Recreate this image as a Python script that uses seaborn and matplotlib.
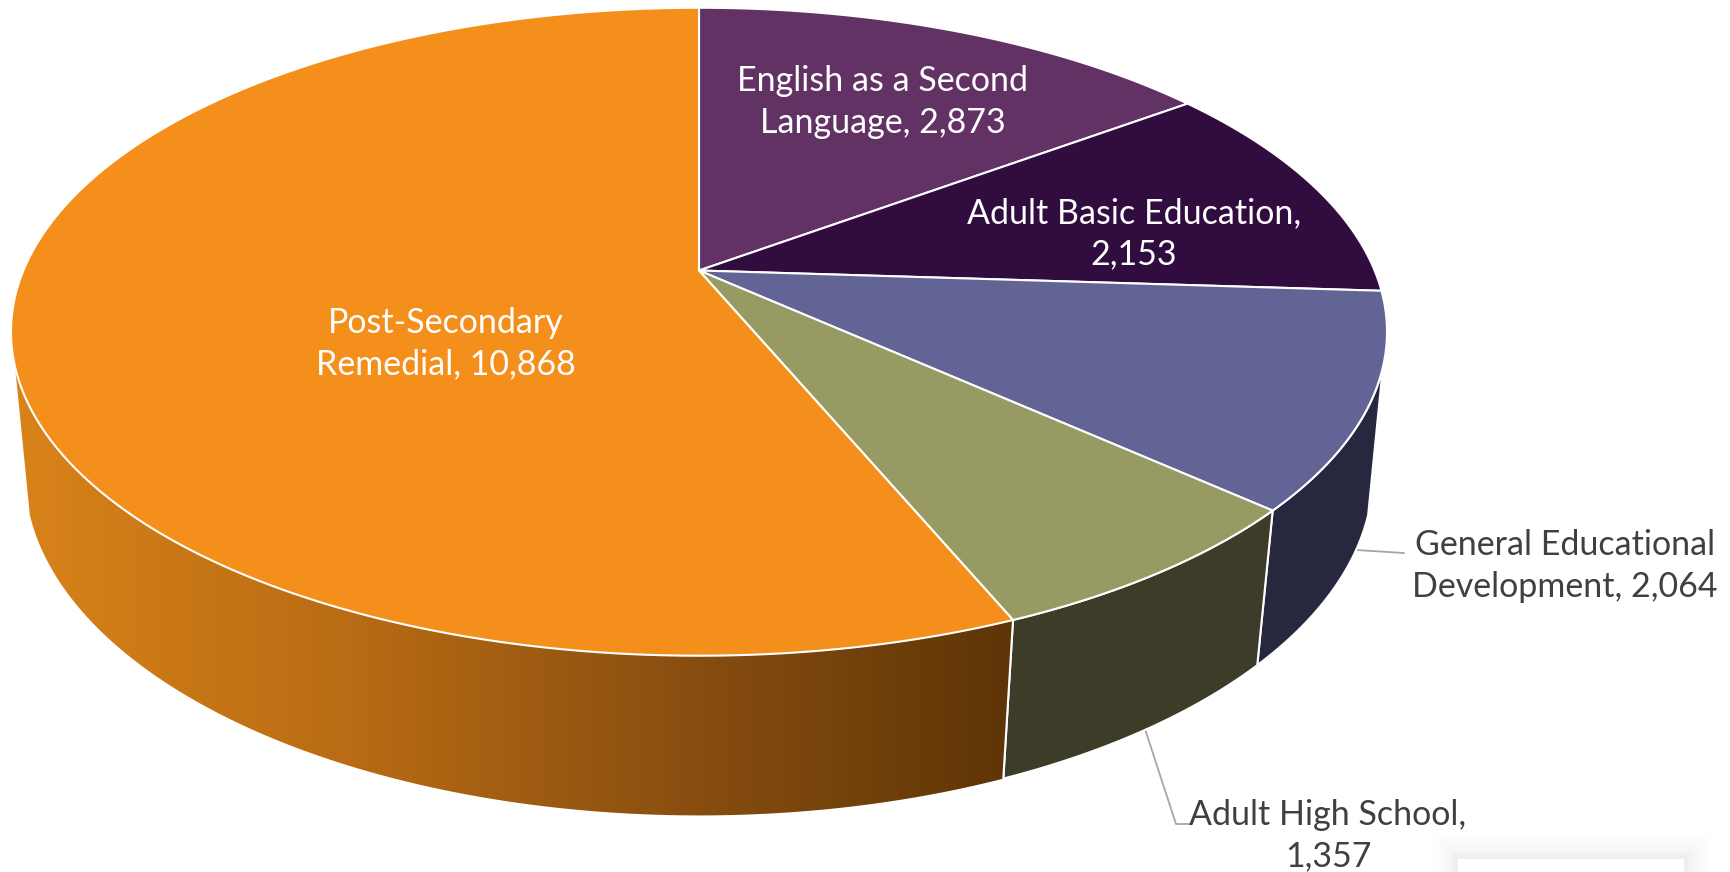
import numpy as np
import matplotlib
matplotlib.use('Agg')
import matplotlib.pyplot as plt
from matplotlib.colors import LinearSegmentedColormap
from matplotlib.patches import Polygon, Rectangle
import seaborn as sns

# values, clockwise from 12 o'clock
categories = ['English as a Second Language', 'Adult Basic Education',
              'General Educational Development', 'Adult High School',
              'Post-Secondary Remedial']
values = [2873, 2153, 2064, 1357, 10868]
labels = ['English as a Second\nLanguage, 2,873', 'Adult Basic Education,\n2,153',
          'General Educational\nDevelopment, 2,064', 'Adult High School,\n1,357',
          'Post-Secondary\nRemedial, 10,868']

top_colors = sns.color_palette(['#623265', '#310D3F', '#636496', '#989A63', '#F48F1C'])
wall_colors = {2: '#27283F', 3: '#3D3C28'}

sns.set_theme(style='white')
plt.rcParams['font.family'] = ['Lato', 'DejaVu Sans']

# perspective of the two rims: cx, cy, half width, half height, perspective
TOP = (699, 270.5, 675.6, 312.4, 0.189)
BOTTOM = (699, 413, 663.5, 331.2, 0.177)
WALL_FROM, WALL_TO = 107, 253  # degrees where the side is visible


def rim(theta_deg, plane):
    cx, cy, a, b, k = plane
    t = np.radians(theta_deg)
    u, v = np.sin(t), np.cos(t)
    return np.column_stack([cx + a * u / (1 + k * v), cy - b * v / (1 + k * v)])


def arc(start, end):
    return np.linspace(start, end, max(int(abs(end - start)) * 2, 2))


fig, ax = plt.subplots(figsize=(17.31, 8.72), dpi=100)
fig.subplots_adjust(0, 0, 1, 1)

edges = np.concatenate([[0], np.cumsum(values)]) / sum(values) * 360

# faint leftover card in the corner of the slide
for grow, alpha in zip([30, 24, 18, 13, 8, 4], [.004, .006, .008, .011, .015, .02]):
    ax.add_patch(Rectangle((1458 - grow, 859 - grow), 226 + 2 * grow, 60, color='k', alpha=alpha, lw=0))
ax.add_patch(Rectangle((1458, 859), 226, 20, color='white', lw=0))

# side walls
for i in range(len(values)):
    start, end = max(edges[i], WALL_FROM), min(edges[i + 1], WALL_TO)
    if end <= start:
        continue
    t = arc(start, end)
    wall = np.vstack([rim(t, TOP), rim(t[::-1], BOTTOM)])
    if i in wall_colors:
        ax.add_patch(Polygon(wall, fc=wall_colors[i], ec='white', lw=1.5, zorder=2))
    else:
        cmap = LinearSegmentedColormap.from_list('side', ['#D98319', '#B96C14', '#8A4F10', '#5E3507'])
        im = ax.imshow(np.linspace(1, 0, 256)[None, :], cmap=cmap, aspect='auto',
                       extent=(1012, 13, 840, 250), zorder=2)
        clip = Polygon(wall, transform=ax.transData, fc='none', ec='none')
        ax.add_patch(clip)
        im.set_clip_path(clip)
        line = np.vstack([rim(np.array([start]), TOP), rim(np.array([start]), BOTTOM)])
        ax.plot(line[:, 0], line[:, 1], color='white', lw=1.5, zorder=3)

# top faces
for i, color in enumerate(top_colors):
    face = np.vstack([[TOP[0], TOP[1]], rim(arc(edges[i], edges[i + 1]), TOP)])
    ax.add_patch(Polygon(face, fc=color, ec='white', lw=1.5, joinstyle='round', zorder=4))

# leader lines
ax.plot([1356, 1404], [550, 553], color='#A6A6A6', lw=1.3, zorder=1)
ax.plot([1145, 1176, 1190], [729, 824, 824], color='#A6A6A6', lw=1.3, zorder=1)

label_pos = [(883, 102), (1134, 234), (1565, 566), (1328, 836), (446, 344)]
label_color = ['white', 'white', '#404040', '#404040', 'white']
for text, (x, y), c in zip(labels, label_pos, label_color):
    ax.text(x, y, text, color=c, fontsize=24.5, ha='center', va='center',
            multialignment='center', linespacing=1.35, zorder=5)

ax.set_xlim(0, 1731)
ax.set_ylim(872, 0)
ax.axis('off')
fig.savefig('out.png', dpi=100, facecolor='white')
